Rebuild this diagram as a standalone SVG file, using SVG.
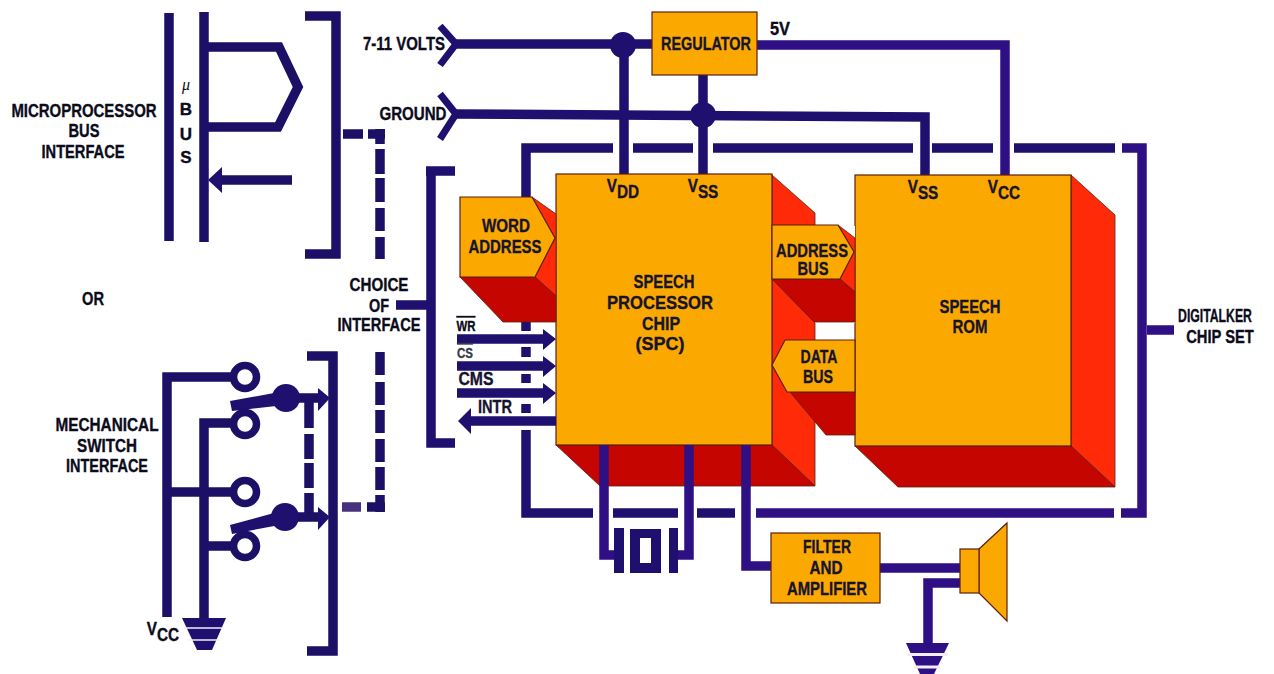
<svg xmlns="http://www.w3.org/2000/svg" width="1274" height="674" viewBox="0 0 1274 674">
<style>
.w{fill:none;stroke:#1f1070;stroke-width:9.500;stroke-linejoin:miter}
.p{fill:none;stroke:#2f0f84;stroke-width:9.500;stroke-linejoin:miter}
.s{fill:none;stroke:#1b0f66;stroke-width:9.500}
.ch{fill:none;stroke:#1f1070;stroke-width:7}
.bl{fill:#1f1070}
.pl{fill:#2f0f84}
.ring{fill:#fff;stroke:#1b0f66;stroke-width:7.500}
.o{fill:#fba900;stroke:#5c1f12;stroke-width:1.200}
.r{fill:#ff2a08;stroke:#5c1f12;stroke-width:.8}
.d{fill:#c50500;stroke:#5c1f12;stroke-width:.8}
text{font-family:"Liberation Sans",Arial,sans-serif;font-weight:700;font-size:18px;fill:#0b0b1c;stroke:#0b0b1c;stroke-width:.35;text-anchor:middle}
.i{fill:#17142e;stroke:#17142e}
.sm{font-size:15px}
.gap{stroke:#f4eef4;stroke-width:1.600}
</style>
<g id="connectors">
<path class="w" d="M455,44H652"/>
<path class="ch" d="M440,26L456,44L440,65"/>
<path class="p" d="M757,45H1005V176"/>
<path class="w" d="M455,114L925,117V176"/>
<path class="ch" d="M440,94L456,114L440,139"/>
<path class="w" d="M624,45V175"/>
<path class="w" d="M703,75V175"/>
<circle class="bl" cx="623" cy="45" r="13"/>
<circle class="bl" cx="703" cy="115" r="13"/>
<path class="w" d="M526,198V148H613M633,148H693M713,148H913M932,148H993M1014,148H1115"/>
<path class="p" d="M1122,148H1142V513H1121M1147,330H1174M756,513H1114"/>
<path class="w" d="M526,322V331M526,347V357M526,374V383M526,404V413M526,430V513H593M613,513H678M697,513H735"/>
<path class="w" d="M426,171H455M431,171V443H455M396,305H431"/>
<path class="s" d="M169,13V241M204,12V242"/>
<path class="s" d="M204,47H279L298,87L278,127H204"/>
<path class="s" d="M222,180H292"/>
<path class="bl" d="M208,180L222,167V193Z"/>
<path class="s" d="M305,16H336V254H305"/>
<path class="s" d="M343,134H363M368,134H385M380,129V144M380,149V174M380,178V202M380,208V231M380,237V259"/>
<path class="s" d="M307,356H333V651H307"/>
<path class="s" d="M380,352V375M380,382V405M380,410V433M380,439V462M380,467V490M380,495V512M367,507H385"/>
<path d="M342,507H361" fill="none" stroke="#47307c" stroke-width="9.500"/>
<path class="s" d="M167,617V377H245M167,492H245M204,620V423H245M204,546H245"/>
<path class="s" d="M309,402V428M309,434V459M309,463V488M309,493V517"/>
<path class="s" d="M285,398H318M285,517H318"/>
<path class="bl" d="M318,388L330,398L318,411ZM318,507L330,517L318,530ZM230,401L285,391V405L232,411ZM230,525L285,510V524L232,534Z"/>
<circle class="bl" cx="286" cy="398" r="14"/>
<circle class="bl" cx="285" cy="517" r="14"/>
<circle class="ring" cx="245" cy="377" r="11.500"/>
<circle class="ring" cx="245" cy="424" r="11.500"/>
<circle class="ring" cx="245" cy="492" r="11.500"/>
<circle class="ring" cx="245" cy="546" r="11.500"/>
<path class="p" d="M880,568H960M960,583H928V645"/>
</g>
<g id="speech-processor-chip">
<path class="r" d="M772,175L815,213V486L772,445Z"/>
<path class="d" d="M556,445L600,486H815L772,445Z"/>
<rect class="o" x="556" y="174" width="216" height="271"/>
<text class="i" x="664" y="288" textLength="61" lengthAdjust="spacingAndGlyphs">SPEECH</text>
<text class="i" x="660" y="309" textLength="106" lengthAdjust="spacingAndGlyphs">PROCESSOR</text>
<text class="i" x="661" y="330" textLength="38" lengthAdjust="spacingAndGlyphs">CHIP</text>
<text class="i" x="660" y="350" textLength="49" lengthAdjust="spacingAndGlyphs">(SPC)</text>
<text class="i" transform="translate(623,192) scale(.85,1)">V<tspan dy="6">DD</tspan></text>
<text class="i" transform="translate(703,192) scale(.85,1)">V<tspan dy="6">SS</tspan></text>
</g>
<g id="speech-rom">
<path class="r" d="M1071,175L1115,215V487L1071,446Z"/>
<path class="d" d="M855,446L898,487H1115L1071,446Z"/>
<rect class="o" x="855" y="175" width="216" height="271"/>
<text class="i" x="970" y="313" textLength="61" lengthAdjust="spacingAndGlyphs">SPEECH</text>
<text class="i" x="970" y="333" textLength="35" lengthAdjust="spacingAndGlyphs">ROM</text>
<text class="i" transform="translate(923,193) scale(.85,1)">V<tspan dy="6">SS</tspan></text>
<text class="i" transform="translate(1004,193) scale(.85,1)">V<tspan dy="6">CC</tspan></text>
</g>
<g id="word-address">
<path class="r" d="M532,197L556,214V296L535,277L555,238Z"/>
<path class="d" d="M460,277L503,322H556V296L535,277Z"/>
<path class="o" d="M460,197H532L555,238L535,277H460Z"/>
<text class="i" x="506" y="232" textLength="48" lengthAdjust="spacingAndGlyphs">WORD</text>
<text class="i" x="505" y="253" textLength="73" lengthAdjust="spacingAndGlyphs">ADDRESS</text>
</g>
<g id="address-bus">
<path d="M815,226H855V323H815Z" fill="#fff"/>
<path class="r" d="M838,225L855,238V292L840,279L854,252Z"/>
<path class="d" d="M772,279L814,322H855V292L840,279Z"/>
<path class="o" d="M772,225H838L854,252L840,279H772Z"/>
<text class="i" x="812" y="257" textLength="72" lengthAdjust="spacingAndGlyphs">ADDRESS</text>
<text class="i" x="813" y="275" textLength="31" lengthAdjust="spacingAndGlyphs">BUS</text>
</g>
<g id="data-bus">
<path class="d" d="M790,392L826,435H855V392Z"/>
<path class="o" d="M855,340H785L772,365L787,392H855Z"/>
<text class="i" x="819" y="363" textLength="37" lengthAdjust="spacingAndGlyphs">DATA</text>
<text class="i" x="818" y="383" textLength="30" lengthAdjust="spacingAndGlyphs">BUS</text>
</g>
<g id="chip-pins">
<path class="p" d="M604,445V555H620M689,445V555H670M746,445V566H771"/>
<path class="bl" d="M614,528H624V573H614ZM669,528H678V573H669Z"/>
<path class="bl" fill-rule="evenodd" d="M630,529H661V573H630ZM640,538V563H651V538Z"/>
</g>
<g id="signals">
<path class="w" d="M457,339H545M457,366H545M457,393H545M556,421H470"/>
<path class="bl" d="M543,329L556,339L543,350ZM543,356L556,366L543,377ZM543,383L556,393L543,404ZM458,421L471,408V434Z"/>
<text class="sm" x="466" y="331" textLength="19" lengthAdjust="spacingAndGlyphs" style="text-decoration:overline">WR</text>
<text class="sm" x="465" y="358" textLength="16" lengthAdjust="spacingAndGlyphs" style="text-decoration:overline;fill:#3a3a48;stroke:#3a3a48">CS</text>
<text class="i" x="476" y="385" textLength="35" lengthAdjust="spacingAndGlyphs">CMS</text>
<text class="i" x="495" y="413" textLength="34" lengthAdjust="spacingAndGlyphs">INTR</text>
</g>
<g id="regulator">
<rect class="o" x="652" y="12" width="105" height="63"/>
<text class="i" x="706" y="50" textLength="90" lengthAdjust="spacingAndGlyphs">REGULATOR</text>
</g>
<g id="filter-amplifier">
<rect class="o" x="771" y="533" width="109" height="70"/>
<text class="i" x="827" y="553" textLength="48" lengthAdjust="spacingAndGlyphs">FILTER</text>
<text class="i" x="826" y="574" textLength="33" lengthAdjust="spacingAndGlyphs">AND</text>
<text class="i" x="827" y="595" textLength="80" lengthAdjust="spacingAndGlyphs">AMPLIFIER</text>
</g>
<g id="speaker">
<path class="o" d="M979,549L1007,523V621L979,593Z"/>
<rect class="o" x="960" y="549" width="19" height="44"/>
</g>
<g id="ground-left">
<path class="bl" d="M182,618H226L212,650H197Z"/>
<path class="gap" d="M184,628H224M188,640H220"/>
</g>
<g id="ground-right">
<path class="pl" d="M906,643H949L934,674H920Z"/>
<path class="gap" d="M908,654.500H948M914,667H940" style="stroke-width:3"/>
</g>
<g id="labels">
<text transform="translate(84,117) scale(.83,1)">MICROPROCESSOR</text>
<text x="84" y="137" textLength="31" lengthAdjust="spacingAndGlyphs">BUS</text>
<text x="83" y="158" textLength="83" lengthAdjust="spacingAndGlyphs">INTERFACE</text>
<text x="93" y="305" textLength="22" lengthAdjust="spacingAndGlyphs">OR</text>
<text x="107" y="431" textLength="103" lengthAdjust="spacingAndGlyphs">MECHANICAL</text>
<text x="107" y="452" textLength="60" lengthAdjust="spacingAndGlyphs">SWITCH</text>
<text x="107" y="472" textLength="82" lengthAdjust="spacingAndGlyphs">INTERFACE</text>
<text x="379" y="291" textLength="59" lengthAdjust="spacingAndGlyphs">CHOICE</text>
<text x="379" y="312" textLength="20" lengthAdjust="spacingAndGlyphs">OF</text>
<text x="379" y="331" textLength="83" lengthAdjust="spacingAndGlyphs">INTERFACE</text>
<text x="404" y="50" textLength="82" lengthAdjust="spacingAndGlyphs">7-11 VOLTS</text>
<text x="413" y="120" textLength="67" lengthAdjust="spacingAndGlyphs">GROUND</text>
<text x="780" y="35" textLength="20" lengthAdjust="spacingAndGlyphs">5V</text>
<text transform="translate(1215,322) scale(.68,1)">DIGITALKER</text>
<text transform="translate(1220,343) scale(.82,1)">CHIP SET</text>
<text x="186" y="90" style="font-family:'Liberation Serif',serif;font-style:italic;font-weight:400;font-size:16px;stroke:none">μ</text>
<text x="186" y="115" style="font-size:17px">B</text>
<text x="186" y="140" style="font-size:17px">U</text>
<text x="186" y="163" style="font-size:17px">S</text>
<text transform="translate(163,635) scale(.85,1)">V<tspan dy="6">CC</tspan></text>
</g>
</svg>
